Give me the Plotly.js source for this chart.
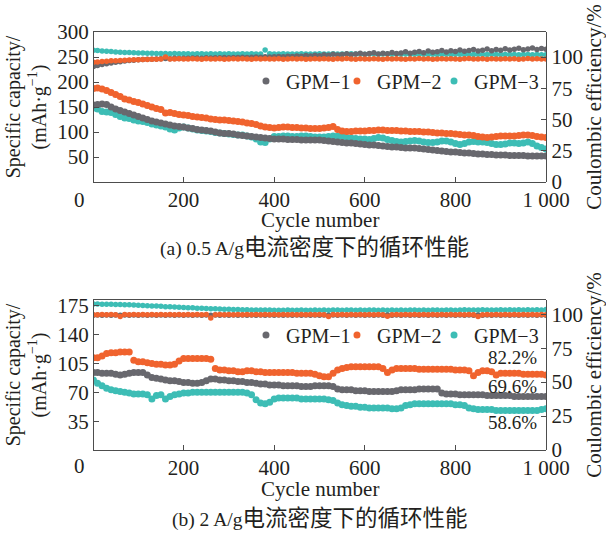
<!DOCTYPE html>
<html>
<head>
<meta charset="utf-8">
<script src="https://cdn.plot.ly/plotly-3.0.1.min.js"></script>
<style>html,body{margin:0;padding:0;background:#fff;}</style>
</head>
<body>
<div id="chart" style="width:606px;height:534px;"></div>
<script>
const cycles = [1,10,20,30,40,50,60,70,80,90,100,110,120,130,140,150,160,170,180,190,200,210,220,230,240,250,260,270,280,290,300,310,320,330,340,350,360,370,380,390,400,410,420,430,440,450,460,470,480,490,500,510,520,530,540,550,560,570,580,590,600,610,620,630,640,650,660,670,680,690,700,710,720,730,740,750,760,770,780,790,800,810,820,830,840,850,860,870,880,890,900,910,920,930,940,950,960,970,980,990,1000];

const seriesNames = ['GPM\u22121','GPM\u22122','GPM\u22123'];
const seriesColors = ['#68686e','#f0632e','#3dbdb5'];

// (a) 0.5 A/g — specific capacity (mAh/g)
const capA1 = [154, 155,156,155,150,146,143,140,137,134,131,
 128,125,122,120,118,116,114,112,111,110,
 108,107,105,104,103,102,100,98,97,97,
 96,94,93,92,91,90,89,88,87,86,
 86,86,85,85,85,84,84,84,84,84,
 83,82,81,80,79,78,78,77,76,75,
 74,74,73,72,71,70,70,69,68,68,
 68,67,66,65,64,63,62,61,60,60,
 59,58,58,57,56,56,55,55,54,54,
 54,53,53,53,53,52,52,52,52,52];
const capA2 = [187, 188,186,183,179,175,171,166,164,161,159,
 156,153,150,147,145,138,139,137,135,134,
 133,131,130,129,128,126,125,124,124,123,
 122,121,120,118,117,115,112,110,109,108,
 109,110,110,109,109,108,108,107,107,107,
 108,109,111,105,102,101,101,102,102,102,
 103,103,104,104,103,103,103,102,102,101,
 101,101,100,100,99,98,98,97,97,96,
 95,94,94,93,91,90,89,90,91,92,
 92,92,92,93,94,94,93,91,90,89];
const capA3 = [148, 146,141,140,139,135,131,128,127,124,122,
 121,119,116,114,112,110,106,104,108,110,
 108,106,104,103,102,101,99,98,97,96,
 95,94,94,92,90,86,80,79,86,91,
 91,92,92,91,91,92,92,91,90,90,
 90,91,92,92,91,89,88,87,86,86,
 85,87,89,88,85,83,81,80,81,82,
 83,82,80,79,79,80,82,82,80,77,
 75,77,80,81,80,80,79,77,75,75,
 76,78,78,77,78,80,77,72,69,66];

// (a) Coulombic efficiency (%)
const ceA1 = [92.5, 93.2,94.0,94.6,95.2,95.8,96.3,96.8,97.2,97.4,97.8,
 98.0,98.2,98.3,98.5,98.6,98.8,98.7,99.0,98.9,99.1,
 99.0,99.2,99.3,99.1,99.4,99.3,99.5,99.4,99.6,99.5,
 99.7,99.6,99.8,99.7,99.9,100.1,99.8,100.2,100.0,100.3,
 100.4,100.2,100.6,100.5,100.9,100.7,101.2,100.8,101.5,101.1,
 101.8,101.4,102.3,101.6,102.0,102.6,101.9,102.4,103.1,102.2,
 102.8,103.4,102.5,103.0,102.7,103.6,102.9,103.3,104.2,103.1,
 103.8,104.5,103.4,104.9,103.9,104.3,105.2,104.0,105.0,104.4,
 105.6,104.6,105.3,106.1,104.8,105.5,106.4,105.1,106.0,105.4,
 106.7,105.6,106.2,107.0,105.8,106.5,107.3,106.0,106.8,106.3];
const ceA2 = [95.8, 96.0,96.4,96.6,97.0,97.1,97.3,97.5,97.6,97.8,97.9,
 98.0,98.1,98.2,98.3,98.4,100.0,98.5,98.4,98.6,98.5,
 98.4,98.6,98.5,98.3,98.7,98.5,98.4,98.6,98.2,98.5,
 98.7,98.4,98.6,98.5,98.3,98.6,98.4,98.7,98.5,98.4,
 98.6,98.3,98.5,98.7,98.4,98.6,98.2,98.5,98.6,98.4,
 98.7,98.5,98.3,98.6,98.4,98.8,98.5,98.3,98.6,98.5,
 98.4,98.7,98.5,98.2,98.6,98.4,98.7,98.5,98.3,98.6,
 98.5,98.8,98.4,98.6,98.3,98.5,98.7,98.4,98.6,98.5,
 98.3,98.6,98.8,98.4,98.5,98.7,98.3,98.6,98.5,98.4,
 98.7,98.5,98.6,98.3,98.5,98.8,98.4,98.6,98.5,98.4];
const ceA3 = [105.5, 105.2,104.9,104.6,104.4,104.1,103.9,103.7,103.6,103.4,103.3,
 103.2,103.1,103.0,102.9,102.9,102.8,102.7,102.8,102.6,102.7,
 102.6,102.5,102.7,102.6,102.5,102.6,102.4,102.6,102.5,102.6,
 102.5,102.4,102.6,102.5,102.6,102.4,102.5,105.6,102.6,102.5,
 102.4,102.6,102.5,102.5,102.4,102.6,102.5,102.4,102.5,102.6,
 102.5,102.4,102.6,102.5,102.4,102.5,102.6,102.4,102.5,102.3,
 102.5,102.4,102.3,102.5,102.4,102.3,102.4,102.2,102.4,102.3,
 102.2,102.4,102.3,102.2,102.3,102.1,102.3,102.2,102.1,102.3,
 102.2,102.1,102.2,102.0,102.2,102.1,102.0,102.2,102.1,102.0,
 102.1,102.0,102.1,101.9,102.0,102.1,101.9,102.0,101.9,101.8];

// (b) 2 A/g — specific capacity (mAh/g)
const capB1 = [94, 94,93,93,93,92,91,92,93,94,94,
 94,91,88,87,86,85,84,84,83,82,
 82,81,81,82,84,86,86,85,85,84,
 84,83,83,82,82,81,80,80,79,79,
 79,78,78,78,78,77,77,77,78,78,
 78,78,77,74,73,73,73,72,72,72,
 71,71,71,71,71,71,72,73,73,73,
 73,74,74,74,74,74,69,68,68,68,
 67,67,67,67,67,67,66,66,66,66,
 66,66,65,65,65,65,65,65,65,65];
const capB2 = [112, 112,114,117,118,118,119,119,119,109,107,
 107,106,105,104,104,103,103,104,108,111,
 111,111,111,111,111,110,99,97,97,96,
 96,95,95,96,96,95,95,94,94,94,
 94,94,94,94,93,93,93,93,92,90,
 89,89,93,97,99,100,101,101,101,101,
 101,101,101,99,94,97,99,99,99,99,
 99,98,98,98,98,98,98,98,98,97,
 97,97,96,90,94,96,96,95,91,93,
 93,93,93,93,92,92,92,92,92,91];
const capB3 = [85, 81,78,75,73,72,71,70,69,68,68,
 68,67,62,66,67,62,65,67,68,69,
 69,70,70,70,70,70,70,70,70,70,
 70,70,70,69,67,61,57,56,58,62,
 63,63,63,63,63,62,62,62,62,62,
 62,61,60,57,55,54,53,53,52,52,
 51,51,51,51,51,50,50,51,54,55,
 56,56,56,56,56,56,56,56,56,55,
 55,54,51,50,49,49,49,49,48,48,
 48,48,48,48,48,48,48,48,49,50];

// (b) Coulombic efficiency (%)
const ceB1 = [99.3, 99.4,99.3,99.4,99.3,99.4,99.3,99.4,99.3,99.4,99.3,
 99.4,99.3,99.4,99.3,99.4,99.3,99.4,99.3,99.4,99.3,
 99.4,99.3,99.4,99.3,99.4,99.3,99.4,99.3,99.4,99.3,
 99.4,99.3,99.4,99.3,99.4,99.3,99.4,99.3,99.4,99.3,
 99.4,99.3,99.4,99.3,99.4,99.3,99.4,99.3,99.4,99.3,
 99.4,99.3,99.4,99.3,99.4,99.3,99.4,99.3,99.4,99.3,
 99.4,99.3,99.4,99.3,99.4,99.3,99.4,99.3,99.4,99.3,
 99.4,99.3,99.4,99.3,99.4,99.3,99.4,99.3,99.4,99.3,
 99.4,99.3,99.4,99.3,99.4,99.3,99.4,99.3,99.4,99.3,
 99.4,99.3,99.4,99.3,99.4,99.3,99.4,99.3,99.4,99.3];
const ceB2 = [99.6, 99.7,99.8,99.7,99.8,99.7,98.3,99.8,99.7,99.8,99.7,
 99.8,99.7,99.8,99.7,99.8,99.7,99.8,99.7,99.8,99.7,
 99.8,99.7,99.8,99.7,99.8,97.2,99.7,99.8,99.7,99.8,
 99.7,99.8,99.7,99.8,99.7,99.8,99.7,99.8,99.7,99.8,
 99.7,99.8,99.7,99.8,99.7,99.8,99.7,99.8,99.7,99.8,
 99.7,98.4,99.8,99.7,99.8,99.7,99.8,99.7,99.8,99.7,
 99.8,99.7,99.8,99.7,98.5,99.7,99.8,99.7,99.8,99.7,
 99.8,99.7,99.8,99.7,99.8,99.7,99.8,99.7,99.8,99.7,
 99.8,99.7,99.8,99.7,98.3,99.7,99.8,99.7,99.8,99.7,
 99.8,99.7,99.8,99.7,99.8,99.7,99.8,99.7,99.8,99.7];
const ceB3 = [107.6, 107.5,107.4,107.4,107.3,107.2,107.1,107.0,106.9,106.8,106.6,
 106.5,106.3,106.1,106.0,105.8,105.6,105.5,105.3,105.1,105.0,
 104.8,104.7,104.5,104.4,104.2,104.1,104.0,103.8,103.7,103.6,
 103.5,103.4,103.3,103.3,103.2,103.2,103.1,103.1,103.1,103.0,
 103.0,103.0,103.1,103.0,103.0,103.1,103.0,103.0,103.1,103.0,
 103.1,103.0,103.2,103.1,103.0,103.1,103.1,103.0,103.1,103.0,
 103.1,103.1,103.0,103.1,103.0,103.1,103.0,103.1,103.0,103.1,
 103.1,103.0,103.1,103.0,103.1,103.1,103.0,103.2,103.1,103.0,
 103.1,103.3,103.2,103.1,103.2,103.3,103.2,103.1,103.2,103.3,
 103.2,103.3,103.2,103.3,103.2,103.3,103.2,103.3,103.2,103.4];

const xTickVals = [200,400,600,800,1000];
const xTickText = ['200','400','600','800','1 000'];
const capTicksA = [50,100,150,200,250,300];
const capTicksB = [35,70,105,140,175];
const ceTicks = [0,25,50,75,100];
const retentionLabels = ['82.2%','69.6%','58.6%'];

const FONT = 'Liberation Serif, Times New Roman, serif';
const TXT = '#231f20';
const LINE = '#4d4d4d';

// one legend box per series so each entry can sit where the reference puts it
const legendIdsA = ['legend','legend2','legend3'];
const legendIdsB = ['legend4','legend5','legend6'];
const legendX = [0.3377, 0.5386, 0.7528];

const traces = [];
const drawOrder = [2,0,1]; // teal underneath, then gray, orange on top
function addPanel(caps, ces, xa, yCap, yCe, legendIds) {
  drawOrder.forEach(i => {
    traces.push({x: cycles, y: ces[i], xaxis: xa, yaxis: yCe, type: 'scatter', mode: 'markers',
      name: seriesNames[i], showlegend: false,
      marker: {color: seriesColors[i], size: 5.5}, hoverinfo: 'skip'});
  });
  drawOrder.forEach(i => {
    traces.push({x: cycles, y: caps[i], xaxis: xa, yaxis: yCap, type: 'scatter', mode: 'markers',
      name: seriesNames[i], legend: legendIds[i], showlegend: true,
      marker: {color: seriesColors[i], size: 7}});
  });
}
addPanel([capA1, capA2, capA3], [ceA1, ceA2, ceA3], 'x', 'y', 'y2', legendIdsA);
addPanel([capB1, capB2, capB3], [ceB1, ceB2, ceB3], 'x2', 'y3', 'y4', legendIdsB);

const tickFont = {family: FONT, size: 21, color: TXT};
const titleFont = {family: FONT, size: 20, color: TXT};

function xAxis(anchor) {
  return {anchor: anchor, domain: [0, 1], range: [0, 1000], tickvals: xTickVals, ticktext: xTickText,
    ticks: 'inside', ticklen: 5, tickcolor: LINE, showline: true, mirror: true, linecolor: LINE, linewidth: 1.3,
    showgrid: false, zeroline: false, tickfont: tickFont, ticklabelstandoff: -2};
}
function yLeft(domain, range, ticks) {
  return {domain: domain, range: range, tickvals: ticks, anchor: 'free', position: 0,
    ticks: 'inside', ticklen: 5, tickcolor: LINE, showline: true, linecolor: LINE, linewidth: 1.3,
    showgrid: false, zeroline: false, tickfont: tickFont,
    title: {text: 'Specific capacity/<br>(mAh\u00b7g<sup>\u22121</sup>)', font: titleFont, standoff: 4}};
}
function yRight(over, range) {
  return {overlaying: over, side: 'right', range: range, tickvals: ceTicks, anchor: 'free', position: 1,
    ticks: 'inside', ticklen: 5, tickcolor: LINE, showline: true, linecolor: LINE, linewidth: 1.3,
    showgrid: false, zeroline: false, tickfont: tickFont,
    title: {text: 'Coulombic efficiency/%', font: {family: FONT, size: 21, color: TXT}, standoff: 4}};
}

function legendAt(x, y) {
  return {orientation: 'h', xanchor: 'left', yanchor: 'middle', x: x, y: y,
    font: {family: FONT, size: 20, color: TXT}, bgcolor: 'rgba(0,0,0,0)', itemwidth: 30, borderwidth: 0};
}

const cjk = (s) => '<span style="font-family:\'Noto Sans CJK SC\';font-size:22.5px">' + s + '</span>';

const annFont = {family: FONT, size: 19, color: TXT};
const layout = {
  width: 606, height: 534,
  margin: {l: 93, r: 60, t: 32, b: 84},
  paper_bgcolor: '#fff', plot_bgcolor: '#fff',
  font: {family: FONT, color: TXT},
  showlegend: true,
  xaxis: xAxis('y'),
  yaxis: yLeft([0.6411, 1], [0, 300], capTicksA),
  yaxis2: yRight('y', [0, 120]),
  xaxis2: xAxis('y3'),
  yaxis3: yLeft([0, 0.3589], [0, 182], capTicksB),
  yaxis4: yRight('y3', [0, 110.5]),
  legend: legendAt(legendX[0], 0.8828),
  legend2: legendAt(legendX[1], 0.8828),
  legend3: legendAt(legendX[2], 0.8828),
  legend4: legendAt(legendX[0], 0.2751),
  legend5: legendAt(legendX[1], 0.2751),
  legend6: legendAt(legendX[2], 0.2751),
  annotations: [
    {xref: 'paper', yref: 'paper', x: -0.0287, y: 0.598, text: '0', showarrow: false, font: tickFont, xanchor: 'center', yanchor: 'middle'},
    {xref: 'paper', yref: 'paper', x: -0.0287, y: -0.0383, text: '0', showarrow: false, font: tickFont, xanchor: 'center', yanchor: 'middle'},
    {xref: 'paper', yref: 'paper', x: 0.5, y: 0.5502, text: 'Cycle number', showarrow: false, font: tickFont, xanchor: 'center', yanchor: 'middle'},
    {xref: 'paper', yref: 'paper', x: 0.5, y: -0.0933, text: 'Cycle number', showarrow: false, font: tickFont, xanchor: 'center', yanchor: 'middle'},
    {xref: 'paper', yref: 'paper', x: 0.9846, y: 0.2201, text: retentionLabels[0], showarrow: false, font: annFont, xanchor: 'right', yanchor: 'middle'},
    {xref: 'paper', yref: 'paper', x: 0.9846, y: 0.1531, text: retentionLabels[1], showarrow: false, font: annFont, xanchor: 'right', yanchor: 'middle'},
    {xref: 'paper', yref: 'paper', x: 0.9846, y: 0.0646, text: retentionLabels[2], showarrow: false, font: annFont, xanchor: 'right', yanchor: 'middle'},
    {xref: 'paper', yref: 'paper', x: 0.490, y: 0.4904, text: '(a) 0.5 A/g' + cjk('电流密度下的循环性能'), showarrow: false,
      font: {family: FONT, size: 19.5, color: TXT}, xanchor: 'center', yanchor: 'middle'},
    {xref: 'paper', yref: 'paper', x: 0.499, y: -0.1579, text: '(b) 2 A/g' + cjk('电流密度下的循环性能'), showarrow: false,
      font: {family: FONT, size: 19.5, color: TXT}, xanchor: 'center', yanchor: 'middle'}
  ]
};

Plotly.newPlot('chart', traces, layout, {displayModeBar: false, staticPlot: true});
</script>
</body>
</html>
